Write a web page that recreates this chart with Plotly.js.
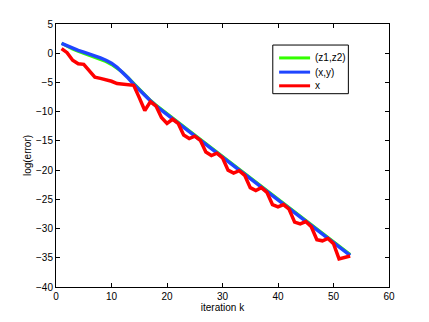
<!DOCTYPE html>
<html>
<head>
<meta charset="utf-8">
<script src="https://cdn.plot.ly/plotly-3.0.1.min.js"></script>
<style>
  html, body { margin: 0; padding: 0; background: #fff; }
  #chart { width: 429px; height: 322px; }
</style>
</head>
<body>
<div id="chart"></div>
<script>
const iterations = Array.from({ length: 53 }, (_, i) => i + 1);

const errZ = [
    1.7, 1.15, 0.7, 0.3, -0.05, -0.35, -0.7, -1.05, -1.45, -1.95,
    -2.55, -3.25, -4.15, -5.15, -6.2, -7.15, -8.05, -8.85, -9.61, -10.34,
    -11.07, -11.8, -12.53, -13.26, -13.99, -14.72, -15.45, -16.18, -16.91, -17.64,
    -18.37, -19.1, -19.83, -20.56, -21.29, -22.02, -22.75, -23.48, -24.21, -24.94,
    -25.67, -26.4, -27.13, -27.86, -28.59, -29.32, -30.05, -30.78, -31.51, -32.24,
    -32.97, -33.7, -34.45
];

const errXY = [
    1.7, 1.25, 0.85, 0.5, 0.2, -0.1, -0.45, -0.8, -1.2, -1.7,
    -2.4, -3.25, -4.25, -5.3, -6.3, -7.25, -8.15, -9.0, -9.76, -10.49,
    -11.22, -11.95, -12.68, -13.41, -14.14, -14.87, -15.6, -16.33, -17.06, -17.79,
    -18.52, -19.25, -19.98, -20.71, -21.44, -22.17, -22.9, -23.63, -24.36, -25.09,
    -25.82, -26.55, -27.28, -28.01, -28.74, -29.47, -30.2, -30.93, -31.66, -32.39,
    -33.12, -33.85, -34.58
];

const errX = [
    0.8, 0.1, -1.2, -1.8, -1.9, -2.9, -4.1, -4.3, -4.5, -4.8,
    -5.2, -5.3, -5.3, -5.5, -7.6, -9.8, -8.3, -9.0, -11.0, -12.0,
    -11.3, -12.0, -14.0, -14.6, -14.2, -14.9, -16.9, -17.5, -17.1, -17.9,
    -20.0, -20.5, -20.1, -20.9, -23.0, -23.5, -23.0, -23.8, -25.9, -26.3,
    -25.9, -26.7, -28.9, -29.2, -28.8, -29.7, -31.9, -32.1, -31.7, -32.6,
    -35.2, -35.0, -34.7
];

const seriesNames = ['(z1,z2)', '(x,y)', 'x'];
const seriesColors = ['#33ff00', '#1f45ff', '#ff0000'];

const xTicks = [0, 10, 20, 30, 40, 50, 60];
const yTicks = [-40, -35, -30, -25, -20, -15, -10, -5, 0, 5];

const font = 'Liberation Sans, Arial, Helvetica, sans-serif';

const traces = [errZ, errXY, errX].map((ys, i) => ({
    x: iterations,
    y: ys,
    name: seriesNames[i],
    type: 'scatter',
    mode: 'lines',
    line: { color: seriesColors[i], width: i === 0 ? 3 : 3.5 }
}));

// MATLAB-style legend box: plotly's own legend rows are too tall
const legendRows = [0.871, 0.817, 0.765];
const shapes = [{
    type: 'rect', xref: 'paper', yref: 'paper',
    x0: 0.651, x1: 0.878, y0: 0.735, y1: 0.920,
    line: { color: '#000', width: 1 }, fillcolor: '#fff', layer: 'above'
}];
const annotations = [];
seriesNames.forEach((name, i) => {
    shapes.push({
        type: 'line', xref: 'paper', yref: 'paper',
        x0: 0.670, x1: 0.763, y0: legendRows[i], y1: legendRows[i],
        line: { color: seriesColors[i], width: 3 }, layer: 'above'
    });
    annotations.push({
        xref: 'paper', yref: 'paper', x: 0.772, y: legendRows[i],
        xanchor: 'left', yanchor: 'middle', showarrow: false,
        text: name, font: { family: font, size: 10, color: '#000' }
    });
});

const axisBase = {
    showline: true,
    linecolor: '#000',
    linewidth: 1,
    mirror: 'ticks',
    ticks: 'inside',
    ticklen: 4,
    tickcolor: '#000',
    showgrid: false,
    zeroline: false,
    tickfont: { family: font, size: 10, color: '#000' }
};

const layout = {
    width: 429,
    height: 322,
    margin: { l: 56, r: 40, t: 24, b: 35 },
    paper_bgcolor: '#fff',
    plot_bgcolor: '#fff',
    showlegend: false,
    shapes: shapes,
    annotations: annotations,
    xaxis: Object.assign({}, axisBase, {
        range: [0, 60],
        tickvals: xTicks,
        title: { text: 'iteration k', font: { family: font, size: 10, color: '#000' }, standoff: 2 }
    }),
    yaxis: Object.assign({}, axisBase, {
        range: [-40, 5],
        tickvals: yTicks,
        title: { text: 'log(error)', font: { family: font, size: 10, color: '#000' }, standoff: 2 }
    })
};

Plotly.newPlot('chart', traces, layout, { displayModeBar: false, staticPlot: true });
</script>
</body>
</html>
